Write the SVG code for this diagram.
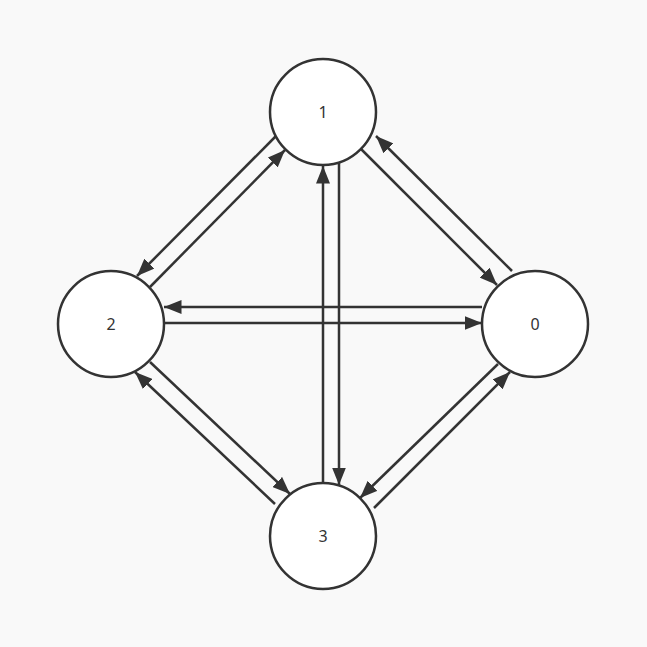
<svg xmlns="http://www.w3.org/2000/svg" width="647" height="647" viewBox="0 0 647 647">
<style>
.n circle{fill:#fff;stroke:#333;stroke-width:2.5}
.n text{font-family:"Noto Sans","Liberation Sans",sans-serif;font-size:16px;fill:#333;text-anchor:middle;dominant-baseline:central}
#edges line{stroke:#333;stroke-width:2.5;marker-end:url(#a)}
</style>
<defs><marker id="a" viewBox="0 0 10 8" refX="10" refY="4" markerWidth="7" markerHeight="5.6" markerUnits="strokeWidth" orient="auto"><path d="M0,0L10,4L0,8z" fill="#333"/></marker></defs>
<rect width="647" height="647" fill="#f9f9f9"/>
<g id="edges">
<line x1="323" y1="483" x2="323" y2="166"/>
<line x1="339" y1="163" x2="339" y2="485"/>
<line x1="482" y1="307" x2="164" y2="307"/>
<line x1="164" y1="323" x2="482" y2="323"/>
<line x1="361" y1="149" x2="497" y2="285"/>
<line x1="512" y1="271" x2="376" y2="136"/>
<line x1="276" y1="136" x2="137" y2="276"/>
<line x1="150" y1="287" x2="285" y2="150"/>
<line x1="275" y1="504" x2="135" y2="372"/>
<line x1="150" y1="362" x2="290" y2="494"/>
<line x1="498" y1="364" x2="360" y2="498"/>
<line x1="374" y1="508" x2="510" y2="372"/>
</g>
<g id="n1" class="n"><circle cx="323" cy="112" r="53"/><text x="323" y="112">1</text></g>
<g id="n2" class="n"><circle cx="111" cy="324" r="53"/><text x="111" y="324">2</text></g>
<g id="n0" class="n"><circle cx="535" cy="324" r="53"/><text x="535" y="324">0</text></g>
<g id="n3" class="n"><circle cx="323" cy="536" r="53"/><text x="323" y="536">3</text></g>
</svg>
